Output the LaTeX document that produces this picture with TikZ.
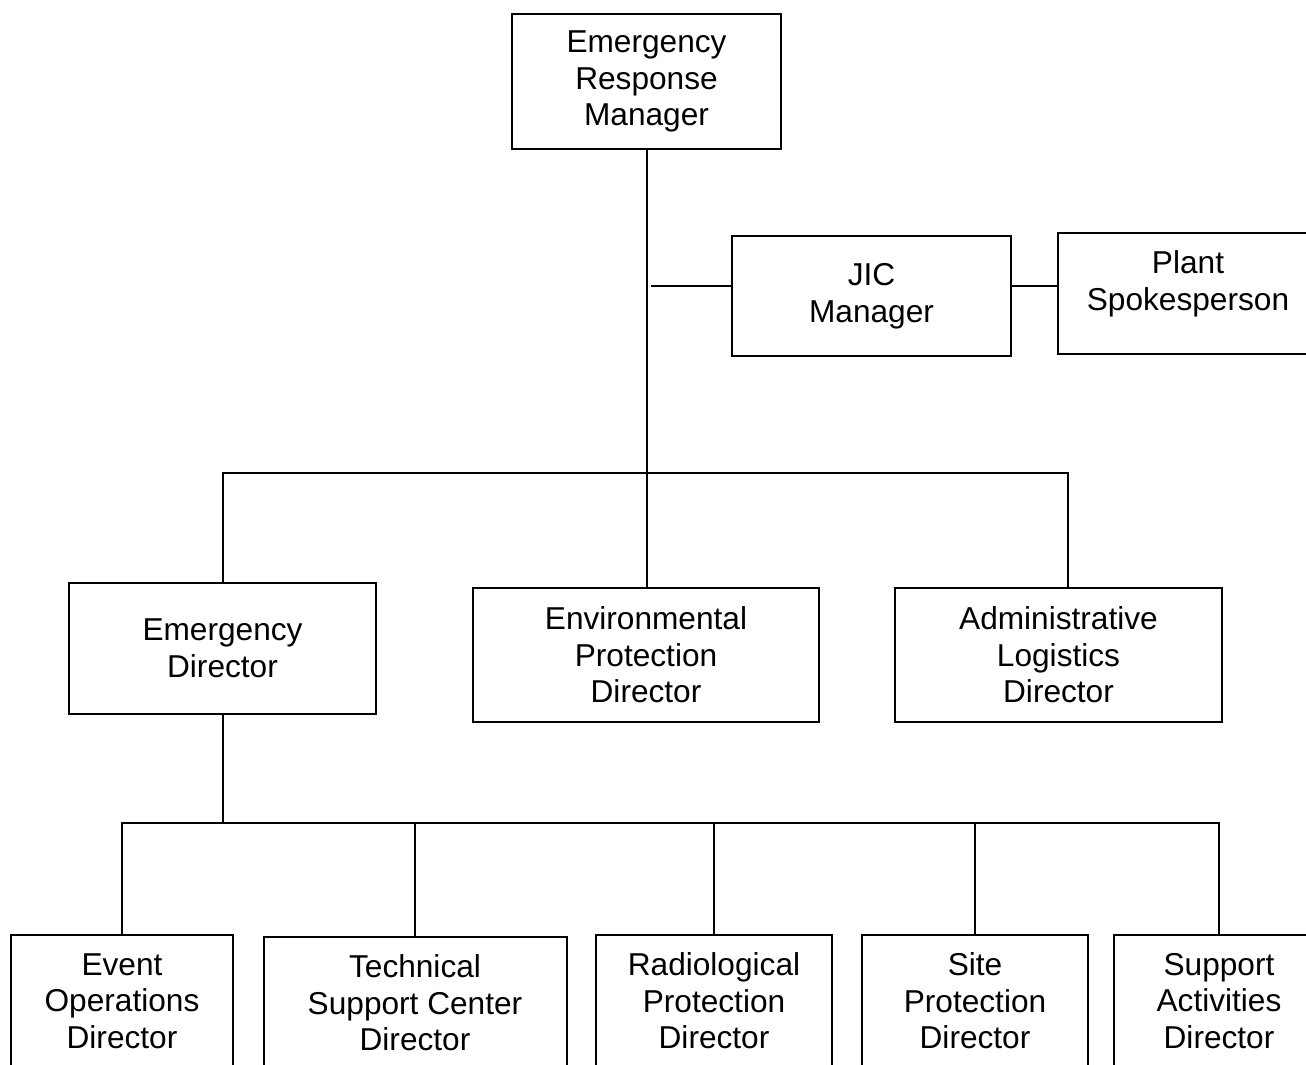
\documentclass[tikz,border=0pt]{standalone}
\usepackage{fontspec}
\setmainfont{Liberation Sans}
\usepackage{tikz}
\usetikzlibrary{positioning, calc}

\tikzset{
  orgbox/.style={draw=black, line width=0.4mm, fill=white, align=center, inner sep=2pt,
    font=\fontsize{18}{20.8}\selectfont},
  orgline/.style={draw=black, line width=0.4mm}
}

\begin{document}
\begin{tikzpicture}[x=0.2mm, y=-0.2mm]
  \path[use as bounding box, clip] (0,0) rectangle (1306,1065);

  % Top level
  \node[orgbox, minimum width=5.38cm, minimum height=2.7cm] (erm) at (646.5, 81.5) {Emergency\\Response\\Manager};

  % JIC branch
  \node[orgbox, minimum width=5.58cm, minimum height=2.4cm] (jic) at (871.5, 296) {JIC\\Manager};
  \node[orgbox, minimum width=5.24cm, minimum height=2.42cm] (plant) at (1189, 293.5) {};
  \node[orgbox, draw=none, fill=none] (planttext) at (1188, 284) {Plant\\Spokesperson};

  % Directors
  \node[orgbox, minimum width=6.14cm, minimum height=2.62cm] (ed) at (222.5, 648.5) {Emergency\\Director};
  \node[orgbox, minimum width=6.92cm, minimum height=2.68cm] (epd) at (646, 655) {Environmental\\Protection\\Director};
  \node[orgbox, minimum width=6.54cm, minimum height=2.68cm] (ald) at (1058.5, 655) {Administrative\\Logistics\\Director};

  % Bottom row
  \node[orgbox, minimum width=4.44cm, minimum height=2.64cm] (eod) at (122, 1001) {Event\\Operations\\Director};
  \node[orgbox, minimum width=6.06cm, minimum height=2.64cm] (tsc) at (415, 1003) {Technical\\Support Center\\Director};
  \node[orgbox, minimum width=4.72cm, minimum height=2.64cm] (rpd) at (714, 1001) {Radiological\\Protection\\Director};
  \node[orgbox, minimum width=4.52cm, minimum height=2.64cm] (spd) at (975, 1001) {Site\\Protection\\Director};
  \node[orgbox, minimum width=4.2cm, minimum height=2.64cm] (sad) at (1219, 1001) {Support\\Activities\\Director};

  % Connectors
  \coordinate (busa) at (647, 473);
  \coordinate (jicin) at (651, 286);
  \coordinate (aldin) at (1068, 473);
  \coordinate (busb) at (223, 823);

  \draw[orgline] (busa |- erm.south) -- (busa |- epd.north);
  \draw[orgline] (jicin) -- (jicin -| jic.west);
  \draw[orgline] (jicin -| jic.east) -- (jicin -| plant.west);
  \draw[orgline] (busb |- ed.north) |- (aldin) -- (aldin |- ald.north);

  \draw[orgline] (busb |- ed.south) -- (busb);
  \draw[orgline] (eod.north) |- (busb) -| (sad.north);
  \foreach \n in {tsc, rpd, spd}
    \draw[orgline] (\n.north) -- (\n.north |- busb);
\end{tikzpicture}
\end{document}
